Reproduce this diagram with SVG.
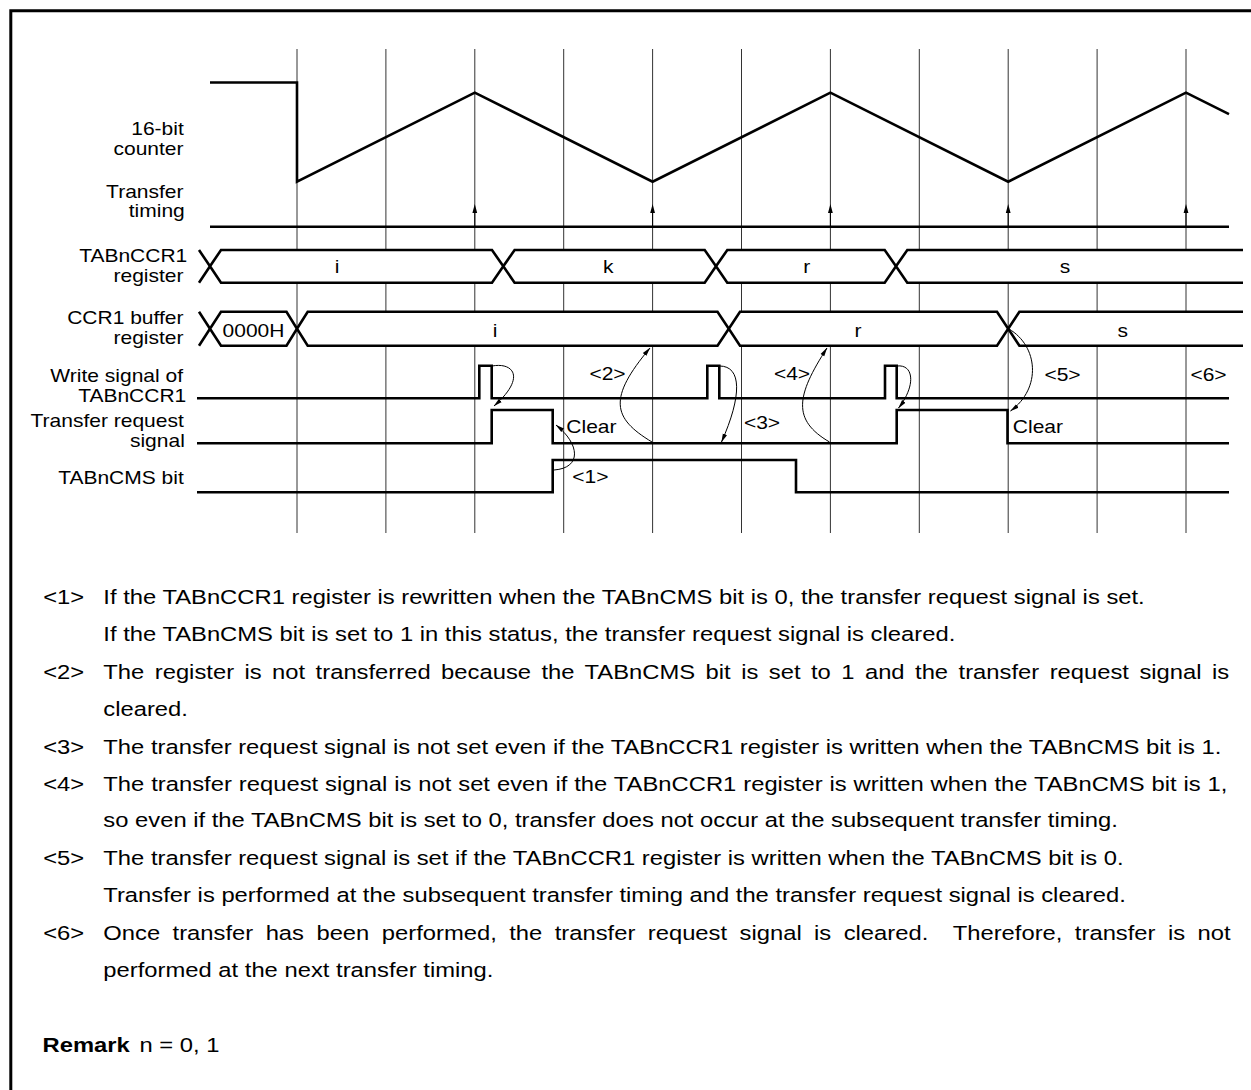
<svg xmlns="http://www.w3.org/2000/svg" width="1251" height="1090" viewBox="0 0 1251 1090">
<style>
.lbl{font-family:"Liberation Sans",Arial,sans-serif;font-size:18.6px;fill:#000}
.end{text-anchor:end}
.mid{text-anchor:middle}
.body{font-family:"Liberation Sans",Arial,sans-serif;font-size:19.5px;fill:#000}
.bold{font-weight:bold}
.grid{stroke:#333;stroke-width:1;fill:none}
.sig{stroke:#000;stroke-width:2.6;fill:none;stroke-linejoin:miter}
.bus{stroke:#000;stroke-width:2.6;fill:#fff;stroke-linejoin:miter}
.frame{stroke:#000;stroke-width:3;fill:none}
.conn{stroke:#000;stroke-width:1;fill:none}
</style>
<defs>
<marker id="ah" markerWidth="9" markerHeight="6" refX="8.5" refY="3" orient="auto" markerUnits="userSpaceOnUse">
<path d="M0,0.8 L9,3 L0,5.2 Z" fill="#000"/>
</marker>
</defs>
<rect width="1251" height="1090" fill="#fff"/>
<g id="frame">
<path class="frame" d="M10.8,1090 V10.8 H1251"/>
</g>
<g id="grid">
<path class="grid" d="M297,49 V533 M385.9,49 V533 M474.8,49 V533 M563.7,49 V533 M652.6,49 V533 M741.5,49 V533 M830.4,49 V533 M919.3,49 V533 M1008.2,49 V533 M1097.1,49 V533 M1186,49 V533"/>
</g>
<g id="labels">
<text class="lbl end" transform="translate(183.8,135) scale(1.13,1)">16-bit</text>
<text class="lbl end" transform="translate(183.5,155) scale(1.13,1)">counter</text>
<text class="lbl end" transform="translate(183.5,198) scale(1.13,1)">Transfer</text>
<text class="lbl end" transform="translate(184.8,217) scale(1.13,1)">timing</text>
<text class="lbl end" transform="translate(187.3,262) scale(1.13,1)">TABnCCR1</text>
<text class="lbl end" transform="translate(183.5,282) scale(1.13,1)">register</text>
<text class="lbl end" transform="translate(183.5,324) scale(1.13,1)">CCR1 buffer</text>
<text class="lbl end" transform="translate(183.5,344) scale(1.13,1)">register</text>
<text class="lbl end" transform="translate(183,382) scale(1.13,1)">Write signal of</text>
<text class="lbl end" transform="translate(186.3,402) scale(1.13,1)">TABnCCR1</text>
<text class="lbl end" transform="translate(183.8,427) scale(1.13,1)">Transfer request</text>
<text class="lbl end" transform="translate(184.8,447) scale(1.13,1)">signal</text>
<text class="lbl end" transform="translate(183.8,484) scale(1.13,1)">TABnCMS bit</text>
</g>
<g id="counter">
<path class="sig" d="M210,82.5 H297 V181.7 L474.8,92.7 L652.6,181.7 L830.4,92.7 L1008.2,181.7 L1186,92.7 L1229,114.2"/>
</g>
<g id="transfer-timing">
<path class="sig" d="M210,226.7 H1229"/>
<path class="conn" d="M474.8,226 V210 M652.6,226 V210 M830.4,226 V210 M1008.2,226 V210 M1186,226 V210"/>
<path fill="#000" d="M474.8,204 l-2.4,9 h4.8 Z M652.6,204 l-2.4,9 h4.8 Z M830.4,204 l-2.4,9 h4.8 Z M1008.2,204 l-2.4,9 h4.8 Z M1186,204 l-2.4,9 h4.8 Z"/>
</g>
<g id="tabnccr1-register">
<path class="sig" d="M199,250 L210,266.3 L199,282.7"/>
<path class="bus" d="M210,266.3 L221,250 H492 L503.3,266.3 L492,282.7 H221 Z"/>
<path class="bus" d="M503.3,266.3 L514.6,250 H704.7 L716,266.3 L704.7,282.7 H514.6 Z"/>
<path class="bus" d="M716,266.3 L727.3,250 H884.7 L896,266.3 L884.7,282.7 H727.3 Z"/>
<path fill="#fff" stroke="none" d="M896,266.3 L907.3,250 H1243 V282.7 H907.3 Z"/>
<path class="sig" d="M1243,250 H907.3 L896,266.3 L907.3,282.7 H1243"/>
<text class="lbl mid" transform="translate(337,273) scale(1.13,1)">i</text>
<text class="lbl mid" transform="translate(608.3,273) scale(1.13,1)">k</text>
<text class="lbl mid" transform="translate(806.7,273) scale(1.13,1)">r</text>
<text class="lbl mid" transform="translate(1065,273) scale(1.13,1)">s</text>
</g>
<g id="ccr1-buffer-register">
<path class="sig" d="M199,311.7 L210,328.7 L199,345.7"/>
<path class="bus" d="M210,328.7 L221,311.7 H286.5 L297,328.7 L286.5,345.7 H221 Z"/>
<path class="bus" d="M297,328.7 L307.7,311.7 H717.5 L728.8,328.7 L717.5,345.7 H307.7 Z"/>
<path class="bus" d="M728.8,328.7 L740,311.7 H997 L1008.2,328.7 L997,345.7 H740 Z"/>
<path fill="#fff" stroke="none" d="M1008.2,328.7 L1019.4,311.7 H1243 V345.7 H1019.4 Z"/>
<path class="sig" d="M1243,311.7 H1019.4 L1008.2,328.7 L1019.4,345.7 H1243"/>
<text class="lbl mid" transform="translate(253.5,336.5) scale(1.13,1)">0000H</text>
<text class="lbl mid" transform="translate(495,336.5) scale(1.13,1)">i</text>
<text class="lbl mid" transform="translate(858,336.5) scale(1.13,1)">r</text>
<text class="lbl mid" transform="translate(1122.7,336.5) scale(1.13,1)">s</text>
</g>
<g id="write-signal">
<path class="sig" d="M197,398.3 H479.3 V365.7 H491.7 V398.3 H707.3 V365.7 H719.3 V398.3 H885 V365.7 H896.7 V398.3 H1229"/>
</g>
<g id="transfer-request-signal">
<path class="sig" d="M197,443.3 H491.7 V410 H552.7 V443.3 H896.7 V410 H1007.5 V443.3 H1229"/>
<text class="lbl" transform="translate(566.3,432.7) scale(1.13,1)">Clear</text>
<text class="lbl" transform="translate(1012.8,432.7) scale(1.13,1)">Clear</text>
</g>
<g id="tabncms-bit">
<path class="sig" d="M197,492.3 H552.7 V460 H796 V492.3 H1229"/>
</g>
<g id="annotations">
<text class="lbl mid" transform="translate(590.3,483.3) scale(1.13,1)">&lt;1&gt;</text>
<text class="lbl mid" transform="translate(607.5,379.5) scale(1.13,1)">&lt;2&gt;</text>
<text class="lbl mid" transform="translate(762,428.5) scale(1.13,1)">&lt;3&gt;</text>
<text class="lbl mid" transform="translate(792,379.5) scale(1.13,1)">&lt;4&gt;</text>
<text class="lbl mid" transform="translate(1062.5,380.5) scale(1.13,1)">&lt;5&gt;</text>
<text class="lbl mid" transform="translate(1208.5,380.5) scale(1.13,1)">&lt;6&gt;</text>
</g>
<g id="connectors">
<path class="conn" marker-end="url(#ah)" d="M492,366 C514,362 526,378 494,406"/>
<path class="conn" marker-end="url(#ah)" d="M554,470 C582,468 580,444 556,425"/>
<path class="conn" marker-end="url(#ah)" d="M652,442 C612,418 608,398 650,348"/>
<path class="conn" marker-end="url(#ah)" d="M719.5,366 C742,366 742,396 721.5,442"/>
<path class="conn" marker-end="url(#ah)" d="M829.5,442 C792,420 796,396 827,348"/>
<path class="conn" marker-end="url(#ah)" d="M897,366 C914,364 916,386 898.5,408"/>
<path class="conn" marker-end="url(#ah)" d="M1009,329 C1038,346 1042,388 1010.5,411"/>
</g>
<g id="notes">
<text class="body" transform="translate(43.2,604) scale(1.22,1)">&lt;1&gt;</text>
<text class="body" transform="translate(103.3,604) scale(1.22,1)">If the TABnCCR1 register is rewritten when the TABnCMS bit is 0, the transfer request signal is set.</text>
<text class="body" transform="translate(103.3,640.5) scale(1.22,1)">If the TABnCMS bit is set to 1 in this status, the transfer request signal is cleared.</text>
<text class="body" transform="translate(43.2,679) scale(1.22,1)">&lt;2&gt;</text>
<text class="body" transform="translate(103.3,679) scale(1.22,1)" word-spacing="3.14">The register is not transferred because the TABnCMS bit is set to 1 and the transfer request signal is</text>
<text class="body" transform="translate(103.3,715.5) scale(1.22,1)">cleared.</text>
<text class="body" transform="translate(43.2,754) scale(1.22,1)">&lt;3&gt;</text>
<text class="body" transform="translate(103.3,754) scale(1.22,1)">The transfer request signal is not set even if the TABnCCR1 register is written when the TABnCMS bit is 1.</text>
<text class="body" transform="translate(43.2,790.5) scale(1.22,1)">&lt;4&gt;</text>
<text class="body" transform="translate(103.3,790.5) scale(1.22,1)" word-spacing="0.26">The transfer request signal is not set even if the TABnCCR1 register is written when the TABnCMS bit is 1,</text>
<text class="body" transform="translate(103.3,827) scale(1.22,1)">so even if the TABnCMS bit is set to 0, transfer does not occur at the subsequent transfer timing.</text>
<text class="body" transform="translate(43.2,865) scale(1.22,1)">&lt;5&gt;</text>
<text class="body" transform="translate(103.3,865) scale(1.22,1)">The transfer request signal is set if the TABnCCR1 register is written when the TABnCMS bit is 0.</text>
<text class="body" transform="translate(103.3,902) scale(1.22,1)">Transfer is performed at the subsequent transfer timing and the transfer request signal is cleared.</text>
<text class="body" transform="translate(43.2,940) scale(1.22,1)">&lt;6&gt;</text>
<text class="body" transform="translate(103.3,940) scale(1.22,1)" word-spacing="4.76" xml:space="preserve">Once transfer has been performed, the transfer request signal is cleared.  Therefore, transfer is not</text>
<text class="body" transform="translate(103.3,977) scale(1.22,1)">performed at the next transfer timing.</text>
<text class="body bold" transform="translate(42.5,1052) scale(1.22,1)">Remark</text>
<text class="body" transform="translate(139.4,1052) scale(1.22,1)">n = 0, 1</text>
</g>
</svg>
